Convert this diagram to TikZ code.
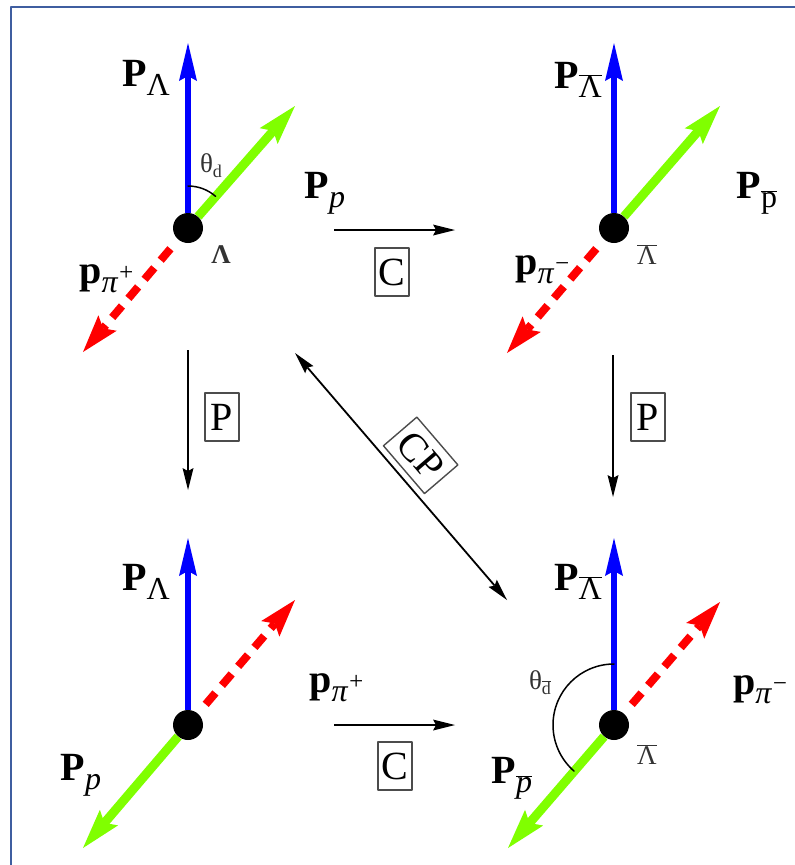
\documentclass[tikz,border=0pt]{standalone}
\usepackage{fontspec}
\setmainfont{Liberation Serif}
\usetikzlibrary{arrows.meta}
\newcommand{\vsub}[1]{\raisebox{-9pt}{\fontsize{32}{36}\selectfont #1}}
\newcommand{\chsup}[1]{\raisebox{12pt}{\fontsize{25}{28}\selectfont #1}}
\newcommand{\barred}[1]{$\overline{\mbox{#1}}$}

\definecolor{framecol}{RGB}{63,94,160}
\definecolor{vecblue}{RGB}{0,0,255}
\definecolor{vecgreen}{RGB}{128,255,0}
\definecolor{vecred}{RGB}{255,0,0}

\begin{document}
\begin{tikzpicture}[x=1pt, y=-1pt, line join=round, line cap=round,
    dot/.style={circle, fill=black, minimum size=30pt, inner sep=0pt},
    spin/.style={draw=vecblue, line width=6pt, line cap=butt,
      -{Stealth[length=38pt, width=18pt, inset=5pt, line width=0pt]}},
    proton/.style={draw=vecgreen, line width=9pt, line cap=butt,
      -{Stealth[length=40pt, width=24pt, inset=7pt, line width=0pt]}},
    pion/.style={draw=vecred, line width=8pt, line cap=butt, dash pattern=on 15pt off 10pt,
      shorten <=12pt, -{Stealth[length=38pt, width=24pt, inset=7pt, line width=0pt]}},
    transf/.style={draw=black, line width=1.8pt, line cap=butt,
      -{Stealth[length=22pt, width=11pt, inset=3pt, line width=0pt]}},
    angarc/.style={draw=black, line width=1.5pt},
    bigtxt/.style={font=\fontsize{40}{46}\selectfont, inner sep=0pt},
    smalltxt/.style={font=\fontsize{27}{32}\selectfont, inner sep=0pt, text=black!80},
    opbox/.style={draw=black!70, line width=1.4pt, font=\fontsize{40}{44}\selectfont,
      minimum width=34pt, minimum height=48pt, inner sep=0pt}]
  \useasboundingbox (0,0) rectangle (795,865);

  % 1. Khung
  \draw[framecol, line width=2.5pt, line cap=butt] (800,7) -- (11,7) -- (11,870);

  % 2. Lambda (tren trai)
  \node[dot] (lamA) at (188,228) {};
  \coordinate (spinA) at (188,43);
  \coordinate (protA) at (295,106);
  \coordinate (pionA) at (83,352);
  \draw[spin] (lamA) -- (spinA);
  \draw[proton] (lamA) -- (protA);
  \draw[pion] (lamA) -- (pionA);
  \draw[angarc] (lamA.center) ++(0,-42) arc[start angle=-90, end angle=-49, radius=42];
  \node[bigtxt] (labSpinA) at (146,78) {\textbf{P}\vsub{Λ}};
  \node[bigtxt] (labPionA) at (107,279) {\textbf{p}\vsub{\itshape π\chsup{+}}};
  \node[smalltxt] (labLamA) at (221,255) {\bfseries Λ};
  \node[smalltxt] (labThA) at (211,166) {θ\raisebox{-5pt}{\fontsize{18}{20}\selectfont d}};

  % 3. anti-Lambda (tren phai)
  \node[dot] (lamB) at (614,228) {};
  \coordinate (spinB) at (614,43);
  \coordinate (protB) at (720,106);
  \coordinate (pionB) at (507,353);
  \draw[spin] (lamB) -- (spinB);
  \draw[proton] (lamB) -- (protB);
  \draw[pion] (lamB) -- (pionB);
  \node[bigtxt] (labSpinB) at (578,80) {\textbf{P}\vsub{\barred{Λ}}};
  \node[bigtxt] (labProtB) at (757,193) {\textbf{P}\vsub{\barred{p}}};
  \node[bigtxt] (labPionB) at (543,270) {\textbf{p}\vsub{\itshape π\chsup{−}}};
  \node[smalltxt] (labLamB) at (647,255) {\barred{Λ}};

  % 4. Lambda sau P (duoi trai)
  \node[dot] (lamC) at (188,725) {};
  \coordinate (spinC) at (188,538);
  \coordinate (pionC) at (295,600);
  \coordinate (protC) at (83,848);
  \draw[spin] (lamC) -- (spinC);
  \draw[proton] (lamC) -- (protC);
  \draw[pion] (lamC) -- (pionC);
  \node[bigtxt] (labSpinC) at (146,582) {\textbf{P}\vsub{Λ}};
  \node[bigtxt] (labProtC) at (81,775) {\textbf{P}\vsub{\itshape p}};

  % 5. anti-Lambda sau CP (duoi phai)
  \node[dot] (lamD) at (614,725) {};
  \coordinate (spinD) at (614,538);
  \coordinate (pionD) at (720,602);
  \coordinate (protD) at (508,848);
  \draw[spin] (lamD) -- (spinD);
  \draw[proton] (lamD) -- (protD);
  \draw[pion] (lamD) -- (pionD);
  \draw[angarc] (lamD.center) ++(0,-61) arc[start angle=-90, end angle=-229, radius=61];
  \node[bigtxt] (labSpinD) at (578,582) {\textbf{P}\vsub{\barred{Λ}}};
  \node[bigtxt] (labProtD) at (512,778) {\textbf{P}\vsub{\barred{\itshape p}}};
  \node[bigtxt, anchor=west] (labPionD) at (733,690) {\textbf{p}\vsub{\itshape π\chsup{−}}};
  \node[smalltxt] (labLamD) at (647,755) {\barred{Λ}};
  \node[smalltxt] (labThD) at (540,683) {θ\raisebox{-5pt}{\fontsize{18}{20}\selectfont\barred{d}}};

  % 6. Phep bien doi C, P, CP
  \node[bigtxt] (labProtM) at (325,193) {\textbf{P}\vsub{\itshape p}};
  \coordinate (cTopS) at (334,230);
  \coordinate (cTopE) at (455,230);
  \draw[transf] (cTopS) -- (cTopE);
  \node[opbox] (boxCtop) at (392,272) {C};

  \node[bigtxt] (labPionM) at (337,688) {\textbf{p}\vsub{\itshape π\chsup{+}}};
  \coordinate (cBotS) at (334,725);
  \coordinate (cBotE) at (455,725);
  \draw[transf] (cBotS) -- (cBotE);
  \node[opbox] (boxCbot) at (395,766) {C};

  \coordinate (pLeftS) at (188,350);
  \coordinate (pLeftE) at (188,490);
  \draw[transf] (pLeftS) -- (pLeftE);
  \node[opbox] (boxPleft) at (222,417) {P};

  \coordinate (pRightS) at (613,355);
  \coordinate (pRightE) at (613,497);
  \draw[transf] (pRightS) -- (pRightE);
  \node[opbox] (boxPright) at (648,417) {P};

  \coordinate (cpS) at (295,353);
  \coordinate (cpE) at (507,600);
  \draw[transf, {Stealth[length=22pt, width=11pt, inset=3pt, line width=0pt]}-{Stealth[length=22pt, width=11pt, inset=3pt, line width=0pt]}]
    (cpS) -- (cpE) node[opbox, sloped, above=6pt, pos=0.49, minimum width=63pt, minimum height=44pt] (boxCP) {CP};
\end{tikzpicture}
\end{document}
